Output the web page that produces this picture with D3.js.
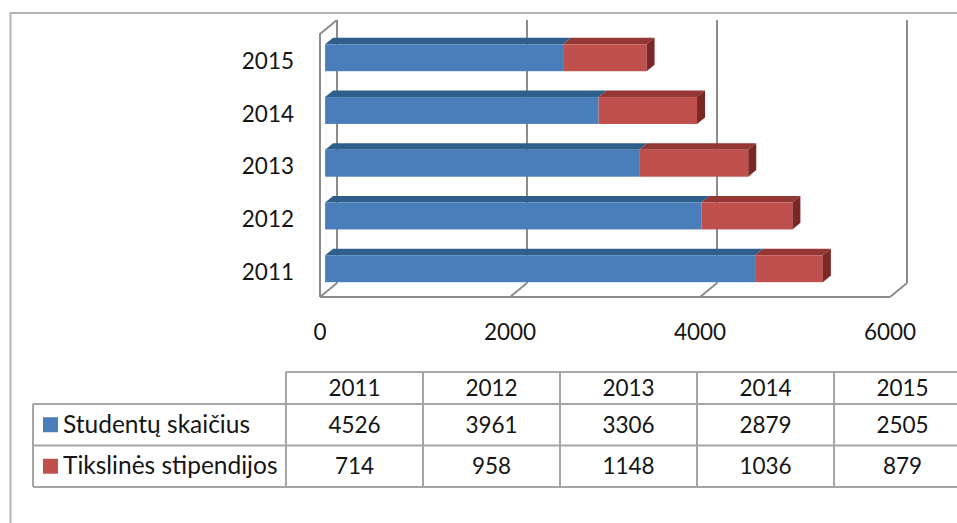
<!DOCTYPE html>
<html>
<head>
<meta charset="utf-8">
<script src="https://cdn.jsdelivr.net/npm/d3@7"></script>
<style>
  body { margin: 0; background: #fff; }
  text { font-family: Lato, "Noto Sans", sans-serif; fill: #151515; }
</style>
</head>
<body>
<div id="chart"></div>
<script>
const years = ["2011", "2012", "2013", "2014", "2015"];
const studentai = [4526, 3961, 3306, 2879, 2505];
const stipendijos = [714, 958, 1148, 1036, 879];
const seriesNames = ["Studentų skaičius", "Tikslinės stipendijos"];
const xTicks = [0, 2000, 4000, 6000];

const svgWidth = 957, svgHeight = 523;
const colors = {
    blue: "#4a7ebb", blueTop: "#2e5e8b",
    red: "#c0504d", redTop: "#943634", redSide: "#7a2725"
};

// 3d depth: full depth of the floor, and where the bar sits in it
const depth = { dx: 17, dy: -14 }, barFront = 0.3, barBack = 0.77;
const floorY = 297, wallTop = 20;

let svg = d3.select("#chart").append("svg")
    .attr("width", svgWidth)
    .attr("height", svgHeight);

// outer frame
svg.append("rect")
    .attr("x", 10.5).attr("y", 13)
    .attr("width", 1000).attr("height", 600)
    .attr("fill", "none")
    .attr("stroke", "#b3b3b3")
    .attr("stroke-width", 2);

// scales (front plane of the floor)
let xScale = d3.scaleLinear()
    .domain([0, 6000])
    .range([320, 890]);

let yScale = d3.scaleBand()
    .domain(years.slice().reverse())
    .range([31.4, 295.1])
    .paddingInner(0.49)
    .paddingOuter(0.245);

// project a point at depth t (0 front, 1 back)
function proj(v, y, t) {
    return [xScale(v) + t * depth.dx, y + t * depth.dy];
}

let grid = svg.append("g")
    .attr("fill", "none")
    .attr("stroke", "#8c8c8c")
    .attr("stroke-width", 2);

// back wall gridlines + floor lines
xTicks.forEach(v => {
    let b = proj(v, floorY, 1), f = proj(v, floorY, 0);
    grid.append("line")
        .attr("x1", b[0]).attr("y1", wallTop)
        .attr("x2", b[0]).attr("y2", b[1]);
    grid.append("line")
        .attr("x1", b[0]).attr("y1", b[1])
        .attr("x2", f[0]).attr("y2", f[1]);
});
// floor front edge
grid.append("line")
    .attr("x1", xScale(0)).attr("y1", floorY)
    .attr("x2", xScale(6000)).attr("y2", floorY);
// left side wall
let lb = proj(0, wallTop - depth.dy, 0);
grid.append("polyline")
    .attr("points", [[xScale(0), floorY], lb, [xScale(0) + depth.dx, wallTop]].map(p => p.join(",")).join(" "));

// bars
let bars = svg.append("g");
let tb = barBack - barFront;
years.forEach((yr, i) => {
    let y0 = yScale(yr), h = yScale.bandwidth();
    let segs = [
        { a: 0, b: studentai[i], front: colors.blue, top: colors.blueTop },
        { a: studentai[i], b: studentai[i] + stipendijos[i], front: colors.red, top: colors.redTop }
    ];
    let g = bars.append("g");
    segs.forEach(s => {
        let x0 = xScale(s.a) + barFront * depth.dx, x1 = xScale(s.b) + barFront * depth.dx;
        let ox = tb * depth.dx, oy = tb * depth.dy;
        g.append("polygon")
            .attr("points", [[x0, y0], [x0 + ox, y0 + oy], [x1 + ox, y0 + oy], [x1, y0]].map(p => p.join(",")).join(" "))
            .attr("fill", s.top);
        g.append("rect")
            .attr("x", x0).attr("y", y0)
            .attr("width", x1 - x0).attr("height", h)
            .attr("fill", s.front);
    });
    let xe = xScale(studentai[i] + stipendijos[i]) + barFront * depth.dx;
    let ox = tb * depth.dx, oy = tb * depth.dy;
    g.append("polygon")
        .attr("points", [[xe, y0], [xe + ox, y0 + oy], [xe + ox, y0 + h + oy], [xe, y0 + h]].map(p => p.join(",")).join(" "))
        .attr("fill", colors.redSide);
});

// category labels
svg.append("g").selectAll("text")
    .data(years)
    .join("text")
    .attr("x", 294)
    .attr("y", d => yScale(d) + yScale.bandwidth() / 2 + 11)
    .attr("text-anchor", "end")
    .attr("font-size", 22.5)
    .text(d => d);

// value axis labels
svg.append("g").selectAll("text")
    .data(xTicks)
    .join("text")
    .attr("x", d => xScale(d))
    .attr("y", 340)
    .attr("text-anchor", "middle")
    .attr("font-size", 22.5)
    .text(d => d);

// data table
let colScale = d3.scaleBand()
    .domain(years)
    .range([286, 286 + 137 * years.length]);
const rowTop = 372, headH = 32, rowH = 41.5, legendLeft = 33;

let table = svg.append("g")
    .attr("stroke", "#a6a6a6")
    .attr("stroke-width", 2);
table.append("line").attr("x1", 286).attr("x2", svgWidth + 20).attr("y1", rowTop).attr("y2", rowTop);
[rowTop + headH, rowTop + headH + rowH, rowTop + headH + 2 * rowH].forEach(y => {
    table.append("line").attr("x1", legendLeft).attr("x2", svgWidth + 20).attr("y1", y).attr("y2", y);
});
table.append("line").attr("x1", legendLeft).attr("x2", legendLeft)
    .attr("y1", rowTop + headH).attr("y2", rowTop + headH + 2 * rowH);
years.forEach(yr => {
    table.append("line").attr("x1", colScale(yr)).attr("x2", colScale(yr))
        .attr("y1", rowTop).attr("y2", rowTop + headH + 2 * rowH);
});

let cells = svg.append("g").attr("font-size", 22.5).attr("text-anchor", "middle");
years.forEach((yr, i) => {
    let cx = colScale(yr) + colScale.bandwidth() / 2;
    cells.append("text").attr("x", cx).attr("y", rowTop + headH / 2 + 8).text(yr);
    cells.append("text").attr("x", cx).attr("y", rowTop + headH + rowH / 2 + 8).text(studentai[i]);
    cells.append("text").attr("x", cx).attr("y", rowTop + headH + rowH * 1.5 + 8).text(stipendijos[i]);
});

// legend keys in table
[colors.blue, colors.red].forEach((c, i) => {
    let cy = rowTop + headH + rowH * (i + 0.5);
    svg.append("rect")
        .attr("x", 43).attr("y", cy - 7.5)
        .attr("width", 15).attr("height", 15)
        .attr("fill", c);
    svg.append("text")
        .attr("x", 63).attr("y", cy + 8)
        .attr("font-size", 24.5)
        .text(seriesNames[i]);
});
</script>
</body>
</html>
